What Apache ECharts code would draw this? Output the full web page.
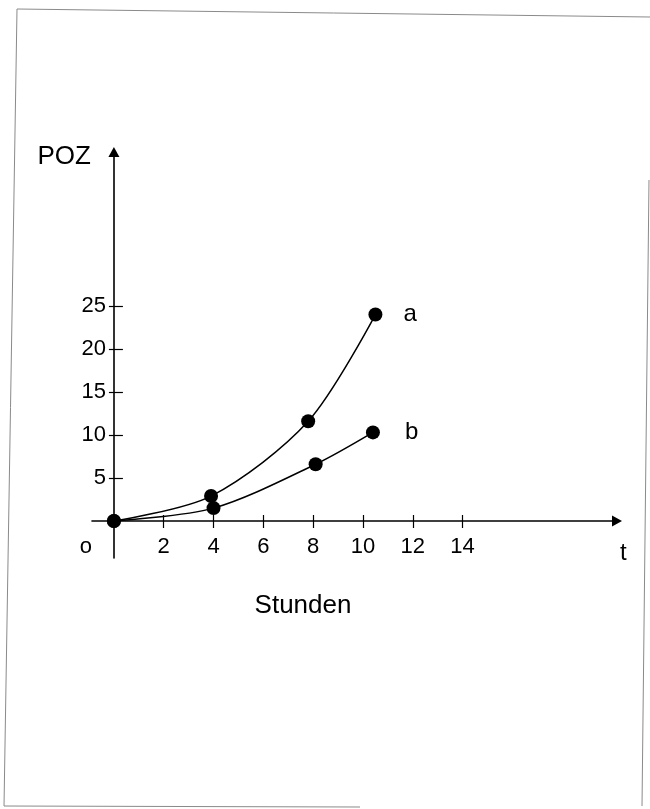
<!DOCTYPE html>
<html><head><meta charset="utf-8">
<script src="https://cdn.jsdelivr.net/npm/echarts@6/dist/echarts.min.js"></script>
<style>html,body{margin:0;padding:0;background:#fff}#c{width:650px;height:809px}</style>
</head><body><div id="c"></div>
<script>
// ---- data ----
const xTickValues = [2, 4, 6, 8, 10, 12, 14];
const yTickValues = [5, 10, 15, 20, 25];
const seriesA = [[0, 0], [3.9, 2.9], [7.8, 11.6], [10.5, 24.0]];
const seriesB = [[0, 0], [4.0, 1.5], [8.1, 6.6], [10.4, 10.3]];
const seriesNames = ['a', 'b'];
const xAxisName = 't';
const yAxisName = 'POZ';
const xAxisTitle = 'Stunden';
const originLabel = 'o';

// ---- chart ----
const FONT = '"Liberation Sans", Arial, Helvetica, sans-serif';
const chart = echarts.init(document.getElementById('c'), null, {renderer: 'canvas'});

const X_MIN = -0.88, X_MAX = 20.2, Y_MIN = -4.3, Y_MAX = 42.9;

function withEndLabel(data, name, dist) {
  return data.map((p, i) => i === data.length - 1
    ? {value: p, label: {show: true, formatter: name, position: 'right', distance: dist,
        color: '#000', fontSize: 24, fontFamily: FONT}}
    : p);
}

const lineSeries = (data, name, dist) => ({
  type: 'line', name: name, xAxisIndex: 0, yAxisIndex: 0,
  data: withEndLabel(data, name, dist),
  smooth: 0.3,
  symbol: 'circle', symbolSize: 14, showAllSymbol: true,
  itemStyle: {color: '#000'},
  lineStyle: {color: '#000', width: 1.5},
  emphasis: {disabled: true}, z: 3
});

const option = {
  animation: false,
  backgroundColor: '#fff',
  textStyle: {fontFamily: FONT},
  grid: {left: 92, right: 33, top: 152, bottom: 251, containLabel: false, outerBoundsMode: 'none'},
  xAxis: [{
    type: 'value', min: X_MIN, max: X_MAX, position: 'bottom',
    axisLine: {show: true, onZero: true, symbol: ['none', 'triangle'], symbolSize: [11, 10],
      lineStyle: {color: '#000', width: 1.6}},
    axisTick: {show: true, customValues: xTickValues, length: 7, lineStyle: {color: '#000', width: 1.2}},
    axisLabel: {show: true, customValues: [0].concat(xTickValues), margin: -22, color: '#000',
      fontSize: 22, fontFamily: FONT,
      formatter: v => v === 0 ? '{o|' + originLabel + '}' : String(v),
      rich: {o: {fontSize: 22, fontFamily: FONT, color: '#000', padding: [0, 56, 0, 0]}}},
    splitLine: {show: false},
    name: xAxisName, nameLocation: 'end', nameGap: 3,
    nameTextStyle: {color: '#000', fontSize: 24, fontFamily: FONT, verticalAlign: 'top', padding: [20, 0, 0, 0]}
  }, {
    type: 'value', min: X_MIN, max: X_MAX, position: 'bottom',
    axisLine: {show: false, onZero: true},
    axisTick: {show: true, inside: true, customValues: xTickValues, length: 6, lineStyle: {color: '#000', width: 1.2}},
    axisLabel: {show: false}, splitLine: {show: false}
  }],
  yAxis: [{
    type: 'value', min: Y_MIN, max: Y_MAX, position: 'left',
    axisLine: {show: true, onZero: true, symbol: ['none', 'triangle'], symbolSize: [11, 10],
      lineStyle: {color: '#000', width: 1.6}},
    axisTick: {show: true, customValues: yTickValues, length: 5, lineStyle: {color: '#000', width: 1.2}},
    axisLabel: {show: true, customValues: yTickValues, margin: -14, color: '#000', fontSize: 22, fontFamily: FONT},
    splitLine: {show: false},
    name: yAxisName, nameLocation: 'end', nameGap: -5,
    nameTextStyle: {color: '#000', fontSize: 26, fontFamily: FONT, align: 'right', verticalAlign: 'middle', padding: [0, 23, 0, 0]}
  }, {
    type: 'value', min: Y_MIN, max: Y_MAX, position: 'left',
    axisLine: {show: false, onZero: true},
    axisTick: {show: true, inside: true, customValues: yTickValues, length: 9, lineStyle: {color: '#000', width: 1.2}},
    axisLabel: {show: false}, splitLine: {show: false}
  }],
  series: [lineSeries(seriesA, seriesNames[0], 21), lineSeries(seriesB, seriesNames[1], 25)],
  graphic: [
    {type: 'text', x: 303, y: 606, silent: true,
      style: {text: xAxisTitle, align: 'center', verticalAlign: 'middle', fill: '#000', fontSize: 26, fontFamily: FONT}},
    {type: 'polyline', silent: true, shape: {points: [[650, 17], [17, 9], [4, 806], [360, 807]]},
      style: {stroke: '#8a8a8a', lineWidth: 1, fill: null}},
    {type: 'polyline', silent: true, shape: {points: [[649, 180], [642, 806]]},
      style: {stroke: '#8a8a8a', lineWidth: 1, fill: null}}
  ]
};
chart.setOption(option);
</script>
</body></html>
